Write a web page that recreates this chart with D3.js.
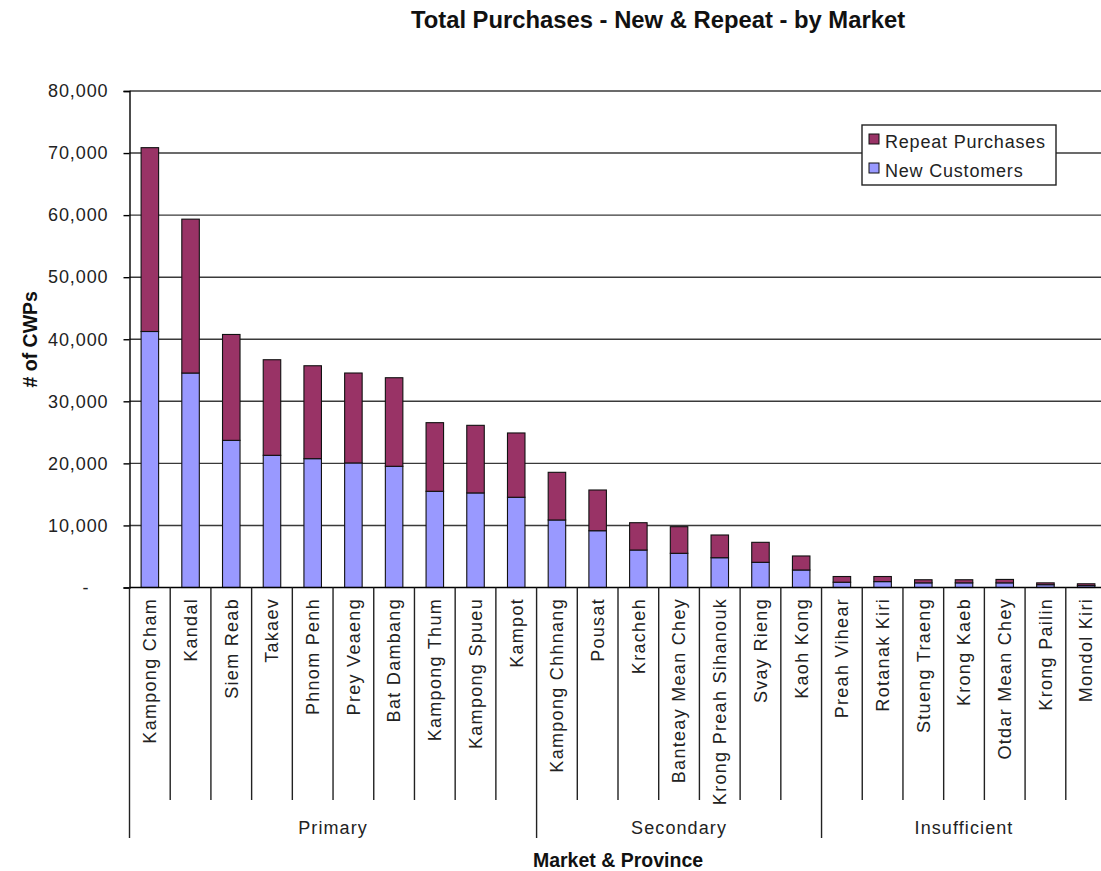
<!DOCTYPE html>
<html>
<head>
<meta charset="utf-8">
<script src="https://cdn.jsdelivr.net/npm/d3@7"></script>
<style>
  html, body { margin: 0; padding: 0; background: #fff; }
  svg { display: block; font-family: "Liberation Sans", Arial, sans-serif; }
</style>
</head>
<body>
<svg id="chart" width="1101" height="871"></svg>
<script>
// Provinces, in market-group order
const provinces = [
  "Kampong Cham", "Kandal", "Siem Reab", "Takaev", "Phnom Penh", "Prey Veaeng",
  "Bat Dambang", "Kampong Thum", "Kampong Spueu", "Kampot",
  "Kampong Chhnang", "Pousat", "Kracheh", "Banteay Mean Chey",
  "Krong Preah Sihanouk", "Svay Rieng", "Kaoh Kong",
  "Preah Vihear", "Rotanak Kiri", "Stueng Traeng", "Krong Kaeb",
  "Otdar Mean Chey", "Krong Pailin", "Mondol Kiri"
];
const markets = ["Primary", "Secondary", "Insufficient"];
const marketSizes = [10, 7, 7];

const newCustomers = [
  41250, 34560, 23710, 21300, 20760, 20070, 19530, 15500, 15240, 14540,
  10880, 9150, 6040, 5510, 4800, 4060, 2820,
  850, 950, 750, 750, 750, 450, 300
];
const repeatPurchases = [
  29620, 24790, 17060, 15400, 14970, 14490, 14270, 11060, 10890, 10360,
  7680, 6560, 4400, 4290, 3660, 3220, 2260,
  920, 820, 500, 500, 550, 300, 300
];
const yTicks = [0, 10000, 20000, 30000, 40000, 50000, 60000, 70000, 80000];
const seriesNames = ["Repeat Purchases", "New Customers"];
const seriesColors = ["#993366", "#9999FF"];

const svg = d3.select("#chart");
const plot = { left: 129.5, right: 1106.5, top: 91, bottom: 587.5 };

const x = d3.scaleBand().domain(provinces).range([plot.left, plot.right]);
const y = d3.scaleLinear().domain([0, 80000]).range([plot.bottom, plot.top]);
const barW = x.bandwidth() * 0.43;

// Horizontal gridlines
svg.append("g")
  .selectAll("line")
  .data(yTicks.filter(d => d > 0))
  .join("line")
  .attr("x1", plot.left).attr("x2", plot.right)
  .attr("y1", d => y(d)).attr("y2", d => y(d))
  .attr("stroke", "#3a3a3a").attr("stroke-width", 1.4);

// Y axis
const fmt = d3.format(",");
const yAxis = svg.append("g")
  .attr("transform", `translate(${plot.left},0)`)
  .call(d3.axisLeft(y).tickValues(yTicks).tickSize(6).tickPadding(15)
    .tickFormat(d => d === 0 ? "-" : fmt(d)));
yAxis.select(".domain").attr("stroke", "#000").attr("stroke-width", 1.4);
yAxis.selectAll(".tick line").attr("stroke", "#000").attr("stroke-width", 1.4);
yAxis.selectAll(".tick text")
  .attr("fill", "#222").style("font-size", "18px").style("letter-spacing", "0.9px");
yAxis.selectAll(".tick text").filter(d => d === 0).attr("x", -40);

// Stacked bars
const rows = provinces.map((p, i) => ({ p, n: newCustomers[i], r: repeatPurchases[i] }));
const stack = d3.stack().keys(["n", "r"])(rows);
const colorFor = { n: seriesColors[1], r: seriesColors[0] };
svg.append("g")
  .selectAll("g")
  .data(stack)
  .join("g")
  .attr("fill", d => colorFor[d.key])
  .selectAll("rect")
  .data(d => d)
  .join("rect")
  .attr("x", d => x(d.data.p) + (x.bandwidth() - barW) / 2)
  .attr("width", barW)
  .attr("y", d => y(d[1]))
  .attr("height", d => y(d[0]) - y(d[1]))
  .attr("stroke", "#111").attr("stroke-width", 1.1);

// X axis baseline
svg.append("line")
  .attr("x1", plot.left).attr("x2", plot.right)
  .attr("y1", plot.bottom).attr("y2", plot.bottom)
  .attr("stroke", "#000").attr("stroke-width", 1.4);

// Category separators (short) and market separators (long)
const groupStarts = [0];
marketSizes.forEach((s, i) => groupStarts.push(groupStarts[i] + s));
const boundaryIdx = d3.range(provinces.length + 1);
svg.append("g")
  .selectAll("line")
  .data(boundaryIdx)
  .join("line")
  .attr("x1", i => i < provinces.length ? x(provinces[i]) : plot.right)
  .attr("x2", i => i < provinces.length ? x(provinces[i]) : plot.right)
  .attr("y1", plot.bottom)
  .attr("y2", i => groupStarts.includes(i) ? 838 : 800)
  .attr("stroke", "#222").attr("stroke-width", 1.4);

// Category labels
svg.append("g")
  .selectAll("text")
  .data(provinces)
  .join("text")
  .attr("transform", d => `translate(${x(d) + x.bandwidth() / 2},598) rotate(-90)`)
  .attr("text-anchor", "end")
  .attr("dy", "0.35em")
  .attr("fill", "#222")
  .style("font-size", "18px")
  .style("letter-spacing", "1.3px")
  .text(d => d);

// Market group labels
svg.append("g")
  .selectAll("text")
  .data(markets)
  .join("text")
  .attr("x", (d, i) => {
    const a = x(provinces[groupStarts[i]]);
    const b = groupStarts[i + 1] < provinces.length ? x(provinces[groupStarts[i + 1]]) : plot.right;
    return (a + b) / 2;
  })
  .attr("y", 834)
  .attr("text-anchor", "middle")
  .attr("fill", "#222")
  .style("font-size", "18px")
  .style("letter-spacing", "1.1px")
  .text(d => d);

// Axis titles
svg.append("text")
  .attr("x", (plot.left + plot.right) / 2).attr("y", 867)
  .attr("text-anchor", "middle")
  .style("font-size", "19.5px").style("font-weight", "bold")
  .attr("fill", "#111")
  .text("Market & Province");

svg.append("text")
  .attr("transform", `translate(37,${(plot.top + plot.bottom) / 2}) rotate(-90)`)
  .attr("text-anchor", "middle")
  .style("font-size", "19.5px").style("font-weight", "bold")
  .attr("fill", "#111")
  .text("# of CWPs");

// Chart title
svg.append("text")
  .attr("x", 658).attr("y", 28)
  .attr("text-anchor", "middle")
  .style("font-size", "23.8px").style("font-weight", "bold")
  .attr("fill", "#111")
  .text("Total Purchases - New & Repeat - by Market");

// Legend
const lg = svg.append("g").attr("transform", "translate(862,125)");
lg.append("rect")
  .attr("width", 194).attr("height", 60)
  .attr("fill", "#fff").attr("stroke", "#222").attr("stroke-width", 1.4);
const items = lg.selectAll("g.item")
  .data(seriesNames)
  .join("g")
  .attr("class", "item")
  .attr("transform", (d, i) => `translate(7,${9 + i * 29})`);
items.append("rect")
  .attr("width", 10).attr("height", 10)
  .attr("fill", (d, i) => seriesColors[i])
  .attr("stroke", "#111").attr("stroke-width", 1);
items.append("text")
  .attr("x", 16).attr("y", 7.5).attr("dy", "0.35em")
  .attr("fill", "#222")
  .style("font-size", "18px").style("letter-spacing", "0.8px")
  .text(d => d);
</script>
</body>
</html>
